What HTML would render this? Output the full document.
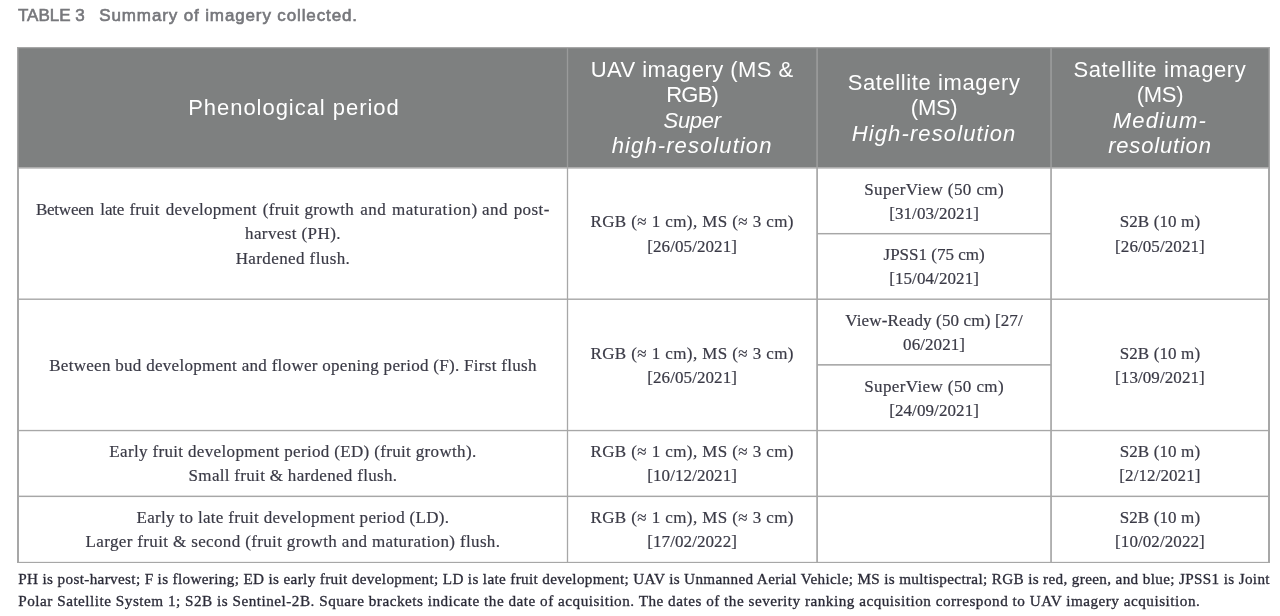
<!DOCTYPE html>
<html lang="en">
<head>
<meta charset="utf-8">
<title>Table 3</title>
<style>
html,body{margin:0;padding:0;background:#fff;}
body{width:1280px;height:616px;position:relative;overflow:hidden;font-family:"Liberation Serif",serif;color:#3a3a46;}
svg.g{position:absolute;left:0;top:0;}
.title{position:absolute;top:4.2px;font-family:"Liberation Sans",sans-serif;font-weight:normal;-webkit-text-stroke:0.6px #74757a;font-size:17px;line-height:24px;color:#77787c;white-space:pre;}
.c{position:absolute;display:flex;align-items:center;justify-content:center;text-align:center;box-sizing:border-box;}
.c span{display:block;white-space:nowrap;}
.h{font-family:"Liberation Sans",sans-serif;color:#fff;font-size:22px;line-height:25.4px;}
.b{font-size:17px;line-height:24.1px;letter-spacing:0.4px;-webkit-text-stroke:0.2px #3a3a46;}
.foot{position:absolute;left:18.3px;font-size:15.2px;line-height:22.2px;white-space:nowrap;color:#2b2b38;-webkit-text-stroke:0.3px #2b2b38;}
</style>
</head>
<body>
<svg class="g" width="1280" height="616" viewBox="0 0 1280 616">
<rect x="19" y="48" width="1249" height="119.2" fill="#7e8080"/>
<rect x="17" y="47" width="2" height="516" fill="#a7a7a7"/>
<rect x="1268" y="47" width="2" height="516" fill="#a7a7a7"/>
<rect x="17" y="47" width="1253" height="1.25" fill="#a7a7a7"/>
<rect x="17" y="561.85" width="1253" height="1.15" fill="#a7a7a7"/>
<rect x="17" y="167.1" width="1253" height="1.5" fill="#a7a7a7"/>
<rect x="566.85" y="167.1" width="1.3" height="395.4" fill="#a7a7a7"/>
<rect x="566.85" y="48.2" width="1.3" height="118.9" fill="#9a9b9b"/>
<rect x="816.25" y="167.1" width="1.7" height="395.4" fill="#a7a7a7"/>
<rect x="816.25" y="48.2" width="1.7" height="118.9" fill="#9a9b9b"/>
<rect x="1050.20" y="167.1" width="1.7" height="395.4" fill="#a7a7a7"/>
<rect x="1050.20" y="48.2" width="1.7" height="118.9" fill="#9a9b9b"/>
<rect x="18" y="48.2" width="1" height="118.9" fill="#8f9090"/>
<rect x="1268" y="48.2" width="1" height="118.9" fill="#8f9090"/>
<rect x="817.1" y="232.97" width="233.95" height="1.45" fill="#a7a7a7"/>
<rect x="17" y="298.50" width="1253.00" height="1.4" fill="#a7a7a7"/>
<rect x="817.1" y="364.05" width="233.95" height="1.6" fill="#a7a7a7"/>
<rect x="17" y="429.88" width="1253.00" height="1.35" fill="#a7a7a7"/>
<rect x="17" y="495.62" width="1253.00" height="1.45" fill="#a7a7a7"/>
</svg>
<div class="title" style="left:18px;letter-spacing:0px">TABLE 3</div>
<div class="title" style="left:99.3px;letter-spacing:0.87px">Summary of imagery collected.</div>
<div class="c h" style="padding-left:2px;left:19px;top:47.00px;width:547.90px;height:121.60px"><div><span style="letter-spacing:0.96px">Phenological period</span></div></div>
<div class="c h" style="left:568.1px;top:47.00px;width:248.10px;height:121.60px"><div><span style="letter-spacing:0.45px">UAV imagery (MS &amp;</span><span style="letter-spacing:-0.8px">RGB)</span><span style="letter-spacing:-0.28px"><i>Super</i></span><span style="letter-spacing:1.1px"><i>high-resolution</i></span></div></div>
<div class="c h" style="left:818px;top:47.00px;width:232.20px;height:121.60px"><div><span style="letter-spacing:0.6px">Satellite imagery</span><span style="letter-spacing:-0.3px">(MS)</span><span style="letter-spacing:1.12px"><i>High-resolution</i></span></div></div>
<div class="c h" style="left:1051.9px;top:47.00px;width:216.10px;height:121.60px"><div><span style="letter-spacing:0.6px">Satellite imagery</span><span style="letter-spacing:-0.3px">(MS)</span><span style="letter-spacing:1.25px"><i>Medium-</i></span><span style="letter-spacing:0.82px"><i>resolution</i></span></div></div>
<div class="c b" style="left:19px;top:169.60px;width:547.90px;height:129.90px"><div><span style="position:relative;width:513px;height:24.1px"><span style="position:absolute;top:0;left:-0.50px;letter-spacing:-0.23px">Between</span> <span style="position:absolute;top:0;left:63.90px;letter-spacing:-0.15px">late</span> <span style="position:absolute;top:0;left:93.00px;letter-spacing:0.18px">fruit</span> <span style="position:absolute;top:0;left:129.30px;letter-spacing:0.29px">development</span> <span style="position:absolute;top:0;left:226.30px;letter-spacing:0.31px">(fruit</span> <span style="position:absolute;top:0;left:268.00px;letter-spacing:0.21px">growth</span> <span style="position:absolute;top:0;left:323.90px;letter-spacing:0.42px">and</span> <span style="position:absolute;top:0;left:355.50px;letter-spacing:0.58px">maturation)</span> <span style="position:absolute;top:0;left:445.60px;letter-spacing:0.5px">and</span> <span style="position:absolute;top:0;left:477.20px;letter-spacing:0.45px">post-</span></span><span>harvest (PH).</span><span>Hardened flush.</span></div></div>
<div class="c b" style="left:568.1px;top:169.60px;width:248.10px;height:129.90px"><div><span>RGB (≈ 1 cm), MS (≈ 3 cm)</span><span style="letter-spacing:0.08px">[26/05/2021]</span></div></div>
<div class="c b" style="left:818px;top:169.60px;width:232.20px;height:64.40px"><div><span>SuperView (50 cm)</span><span style="letter-spacing:0.08px">[31/03/2021]</span></div></div>
<div class="c b" style="left:818px;top:235.40px;width:232.20px;height:64.10px"><div><span style="letter-spacing:0px">JPSS1 (75 cm)</span><span style="letter-spacing:0.08px">[15/04/2021]</span></div></div>
<div class="c b" style="left:1051.9px;top:169.60px;width:216.10px;height:129.90px"><div><span style="letter-spacing:0.12px">S2B (10 m)</span><span style="letter-spacing:0.08px">[26/05/2021]</span></div></div>
<div class="c b" style="left:19px;top:300.90px;width:547.90px;height:130.00px"><div><span style="letter-spacing:0.29px">Between bud development and flower opening period (F). First flush</span></div></div>
<div class="c b" style="left:568.1px;top:300.90px;width:248.10px;height:130.00px"><div><span>RGB (≈ 1 cm), MS (≈ 3 cm)</span><span style="letter-spacing:0.08px">[26/05/2021]</span></div></div>
<div class="c b" style="left:818px;top:300.90px;width:232.20px;height:64.10px"><div><span style="letter-spacing:0.15px">View-Ready (50 cm) [27/</span><span style="letter-spacing:0.08px">06/2021]</span></div></div>
<div class="c b" style="left:818px;top:366.70px;width:232.20px;height:64.20px"><div><span>SuperView (50 cm)</span><span style="letter-spacing:0.08px">[24/09/2021]</span></div></div>
<div class="c b" style="left:1051.9px;top:300.90px;width:216.10px;height:130.00px"><div><span style="letter-spacing:0.12px">S2B (10 m)</span><span style="letter-spacing:0.08px">[13/09/2021]</span></div></div>
<div class="c b" style="left:19px;top:432.20px;width:547.90px;height:64.40px"><div><span style="letter-spacing:0.34px">Early fruit development period (ED) (fruit growth).</span><span style="letter-spacing:0.31px">Small fruit &amp; hardened flush.</span></div></div>
<div class="c b" style="left:568.1px;top:432.20px;width:248.10px;height:64.40px"><div><span>RGB (≈ 1 cm), MS (≈ 3 cm)</span><span style="letter-spacing:0.08px">[10/12/2021]</span></div></div>
<div class="c b" style="left:1051.9px;top:432.20px;width:216.10px;height:64.40px"><div><span style="letter-spacing:0.12px">S2B (10 m)</span><span style="letter-spacing:0.08px">[2/12/2021]</span></div></div>
<div class="c b" style="left:19px;top:498.10px;width:547.90px;height:64.75px"><div><span style="letter-spacing:0.32px">Early to late fruit development period (LD).</span><span style="letter-spacing:0.36px">Larger fruit &amp; second (fruit growth and maturation) flush.</span></div></div>
<div class="c b" style="left:568.1px;top:498.10px;width:248.10px;height:64.75px"><div><span>RGB (≈ 1 cm), MS (≈ 3 cm)</span><span style="letter-spacing:0.08px">[17/02/2022]</span></div></div>
<div class="c b" style="left:1051.9px;top:498.10px;width:216.10px;height:64.75px"><div><span style="letter-spacing:0.12px">S2B (10 m)</span><span style="letter-spacing:0.08px">[10/02/2022]</span></div></div>
<div class="foot" style="top:567.8px;letter-spacing:0.348px">PH is post-harvest; F is flowering; ED is early fruit development; LD is late fruit development; UAV is Unmanned Aerial Vehicle; MS is multispectral; RGB is red, green, and blue; JPSS1 is Joint</div>
<div class="foot" style="top:590px;letter-spacing:0.507px">Polar Satellite System 1; S2B is Sentinel-2B. Square brackets indicate the date of acquisition. The dates of the severity ranking acquisition correspond to UAV imagery acquisition.</div>
</body>
</html>
